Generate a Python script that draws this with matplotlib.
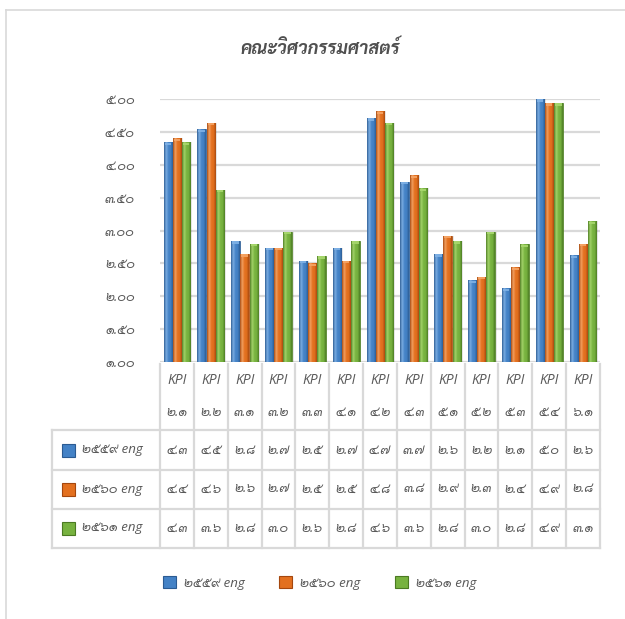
import numpy as np
import matplotlib
matplotlib.use("Agg")
import matplotlib.pyplot as plt
import matplotlib.colors as mcolors
from matplotlib import font_manager
from matplotlib.patches import Rectangle
from matplotlib.lines import Line2D
import matplotlib.transforms as mtransforms

# data
kpi = ["2.1", "2.2", "3.1", "3.2", "3.3", "4.1", "4.2", "4.3", "5.1", "5.2", "5.3", "5.4", "6.1"]
series_names = ["2559 eng", "2560 eng", "2561 eng"]
y2559 = [4.34, 4.54, 2.84, 2.74, 2.54, 2.74, 4.71, 3.74, 2.64, 2.24, 2.12, 5.00, 2.62]
y2560 = [4.40, 4.64, 2.64, 2.74, 2.50, 2.54, 4.81, 3.84, 2.92, 2.30, 2.44, 4.94, 2.80]
y2561 = [4.34, 3.62, 2.80, 2.98, 2.61, 2.84, 4.64, 3.64, 2.84, 2.98, 2.79, 4.94, 3.14]
yticks = [1.0, 1.5, 2.0, 2.5, 3.0, 3.5, 4.0, 4.5, 5.0]
title = "คณะวิศวกรรมศาสตร์"

series = [y2559, y2560, y2561]
# (dark edge, light, base)
palette = [
    ("#2b5b92", "#80b2e6", "#4482c6"),
    ("#a4470e", "#f6a566", "#e3701f"),
    ("#4b7a22", "#a8d86e", "#77b23f"),
]

THAI = str.maketrans("0123456789", "๐๑๒๓๔๕๖๗๘๙")


def th(s):
    return s.translate(THAI)


# pick a Thai font that is actually installed
names = {f.name for f in font_manager.fontManager.ttflist}
thai_font = "DejaVu Sans"
for cand in ["Sarabun", "Noto Sans Thai Looped", "Noto Sans Thai", "Bai Jamjuree", "Athiti"]:
    if cand in names:
        thai_font = cand
        break
fam = ["Open Sans", thai_font, "DejaVu Sans"]
plt.rcParams["font.family"] = fam

grey_txt = "#595959"
line_c = "#d9d9d9"

fig = plt.figure(figsize=(6.25, 6.19), dpi=100)
ax = fig.add_axes([160 / 625, 1 - 362 / 619, 440 / 625, 263 / 619])

x = np.arange(len(kpi))
w = 0.27
offsets = [-w, 0, w]
bw = 0.25

for k, vals in enumerate(series):
    dark, light, base = palette[k]
    # soft shadow to the right
    ax.bar(x + offsets[k] + 0.05, np.array(vals) - 1, bw, bottom=1,
           color="#000000", alpha=0.10, zorder=2, linewidth=0)
    bars = ax.bar(x + offsets[k], np.array(vals) - 1, bw, bottom=1,
                  color=base, edgecolor=dark, linewidth=0.5, zorder=3)
    cmap = mcolors.LinearSegmentedColormap.from_list(
        "bev%d" % k, [dark, light, base, base, dark])
    grad = np.linspace(0, 1, 64).reshape(1, -1)
    for b in bars:
        x0, y0 = b.get_x(), b.get_y()
        bwid, bh = b.get_width(), b.get_height()
        im = ax.imshow(grad, cmap=cmap, aspect="auto", zorder=4,
                       extent=[x0, x0 + bwid, y0, y0 + bh], interpolation="bicubic")
        im.set_clip_path(b)
        # light bevel cap at the top
        ax.add_patch(Rectangle((x0 + bwid * 0.12, y0 + bh - 0.04), bwid * 0.76, 0.035,
                               facecolor=light, edgecolor="none", zorder=5, alpha=0.9))

ax.set_xlim(-0.5, len(kpi) - 0.5)
ax.set_ylim(1, 5)
ax.set_yticks(yticks)
ax.set_yticklabels([th("%.2f" % v) for v in yticks], fontstyle="italic",
                   color=grey_txt, fontsize=9.5)
ax.set_xticks([])
ax.tick_params(axis="y", length=0, pad=18)
ax.grid(axis="y", color=line_c, linewidth=1.6, zorder=0)
ax.set_axisbelow(True)
for s in ax.spines.values():
    s.set_visible(False)

# title
fig.text(0.512, 0.922, title, ha="center", va="center", fontsize=13,
         fontweight="bold", fontstyle="italic", color="#505050",
         family=[thai_font, "DejaVu Sans"])

# data table under the plot
tr = mtransforms.blended_transform_factory(ax.transData, fig.transFigure)
y_top, y_head, y_bot = 1 - 364 / 619, 1 - 430 / 619, 1 - 548 / 619
row_lines = [1 - 430 / 619, 1 - 470 / 619, 1 - 509 / 619, 1 - 548 / 619]
row_mid = [1 - 450 / 619, 1 - 489 / 619, 1 - 528 / 619]
left_x = 52 / 625

for i in range(len(kpi) + 1):
    fig.add_artist(Line2D([i - 0.5, i - 0.5], [y_bot, y_top], transform=tr,
                          color=line_c, linewidth=1.6))
fig.add_artist(Line2D([left_x, left_x], [y_bot, y_head], color=line_c, linewidth=1.6))
for yl in row_lines:
    fig.add_artist(Line2D([left_x, 600 / 625], [yl, yl], color=line_c, linewidth=1.6))

for i, lab in enumerate(kpi):
    fig.text(i, 1 - 380 / 619, "KPI", transform=tr, ha="center", va="center",
             fontsize=10, fontstyle="italic", color=grey_txt)
    fig.text(i, 1 - 412 / 619, th(lab), transform=tr, ha="center", va="center",
             fontsize=9.5, fontstyle="italic", color=grey_txt)

for k, vals in enumerate(series):
    dark, light, base = palette[k]
    ym = row_mid[k]
    fig.add_artist(Rectangle((62 / 625, ym - 6.5 / 619), 13 / 625, 13 / 619,
                             transform=fig.transFigure, facecolor=base,
                             edgecolor=dark, linewidth=0.8))
    fig.text(82 / 625, ym, th(series_names[k]), ha="left", va="center",
             fontsize=9.5, fontstyle="italic", color=grey_txt)
    for i, v in enumerate(vals):
        fig.text(i, ym, th("%.1f" % v), transform=tr, ha="center", va="center",
                 fontsize=9.5, fontstyle="italic", color=grey_txt)

# legend at the bottom
handles = [Rectangle((0, 0), 1, 1, facecolor=palette[k][2], edgecolor=palette[k][0],
                     linewidth=0.8) for k in range(3)]
fig.legend(handles, [th(n) for n in series_names], loc="center",
           bbox_to_anchor=(0.511, 1 - 583 / 619), ncol=3, frameon=False,
           handlelength=1.0, handleheight=1.0, columnspacing=2.6, handletextpad=0.6,
           prop={"style": "italic", "size": 9.5}, labelcolor=grey_txt)

# chart frame (only the left and top edges are in view)
fig.add_artist(Line2D([6 / 625, 6 / 625], [0, 1 - 10 / 619], color=line_c, linewidth=1.2))
fig.add_artist(Line2D([6 / 625, 1], [1 - 10 / 619, 1 - 10 / 619], color=line_c, linewidth=1.2))

fig.savefig("out.png", dpi=100)
